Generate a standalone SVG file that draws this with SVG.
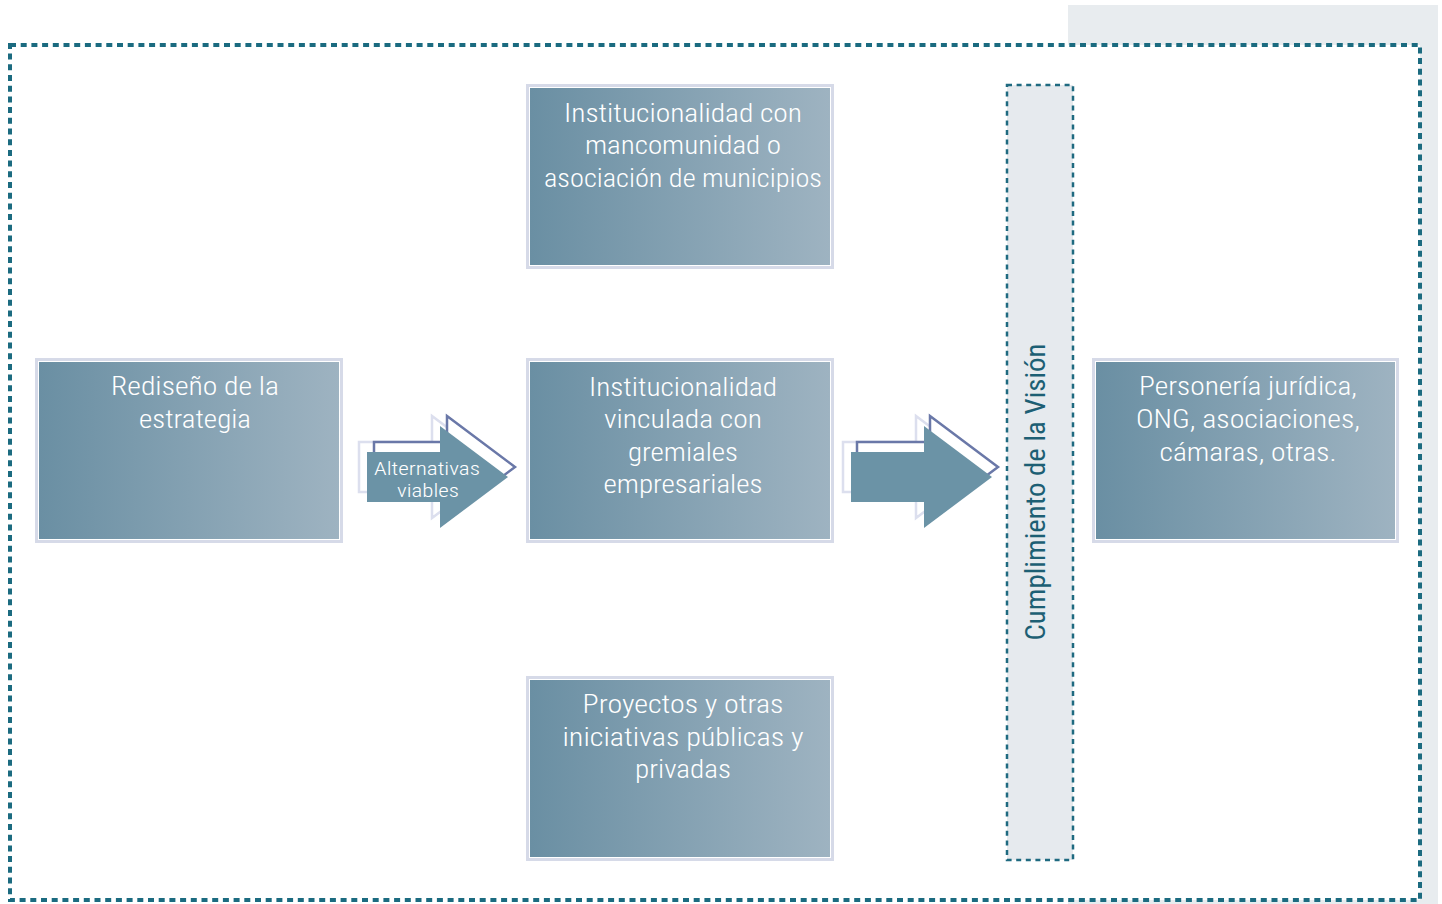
<svg xmlns="http://www.w3.org/2000/svg" width="1442" height="904" viewBox="0 0 1442 904">
  <style>
    .frame { fill: none; stroke: #1b6b80; stroke-width: 4; stroke-dasharray: 6 4.7; }
    .vision { fill: #e6eaee; stroke: #1f6a80; stroke-width: 2.5; stroke-dasharray: 5 4.6; }
    .boxout { fill: #ffffff; stroke: #d6dae8; stroke-width: 3; }
    .boxin { fill: url(#boxGrad); }
    .lbl { font-family: "Liberation Sans Narrow", "Roboto Condensed", Roboto, "Liberation Sans", Arial, sans-serif; font-size: 26px; font-weight: 300; fill: #ffffff; text-anchor: middle; }
    .arrLbl { font-family: "Liberation Sans Narrow", "Roboto Condensed", Roboto, "Liberation Sans", Arial, sans-serif; font-size: 19px; font-weight: 300; fill: #ffffff; text-anchor: middle; }
    .vlbl { font-family: "Liberation Sans Narrow", "Roboto Condensed", Roboto, "Liberation Sans", Arial, sans-serif; font-size: 27px; fill: #1d5f74; text-anchor: middle; }
    .arrFill { fill: #6b93a6; }
    .arrLight { fill: #ffffff; stroke: #dcdfee; stroke-width: 2.5; }
    .arrDark { fill: #ffffff; stroke: #6a78a8; stroke-width: 2.5; }
  </style>
  <defs>
    <linearGradient id="boxGrad" x1="0" y1="0" x2="1" y2="0">
      <stop offset="0" stop-color="#6a8fa3"/>
      <stop offset="1" stop-color="#9eb3c1"/>
    </linearGradient>
    <!-- block arrow shape, origin at the left end of the shaft centre line -->
    <polygon id="blockArrow" points="0,-25 73,-25 73,-51 141,0 73,51 73,25 0,25"/>
  </defs>

  <!-- background panel and frame -->
  <rect x="1068" y="5" width="370" height="899" fill="#e8ecef"/>
  <rect x="0" y="45" width="1420" height="855" fill="#ffffff"/>
  <rect class="frame" x="10" y="45" width="1410" height="855"/>

  <!-- vertical band -->
  <g id="vision">
    <rect class="vision" x="1007" y="85" width="66" height="775"/>
    <text class="vlbl" transform="translate(1045,492) rotate(-90)" textLength="297" lengthAdjust="spacingAndGlyphs">Cumplimiento de la Visión</text>
  </g>

  <g id="connectors">
    <g id="arrow1">
      <use href="#blockArrow" class="arrLight" transform="translate(359,467)"/>
      <use href="#blockArrow" class="arrDark" transform="translate(374,467)"/>
      <use href="#blockArrow" class="arrFill" transform="translate(367,477)"/>
      <text class="arrLbl" x="427" y="475" textLength="106" lengthAdjust="spacingAndGlyphs">Alternativas</text>
      <text class="arrLbl" x="428" y="497" textLength="62" lengthAdjust="spacingAndGlyphs">viables</text>
    </g>
    <g id="arrow2">
      <use href="#blockArrow" class="arrLight" transform="translate(843,467)"/>
      <use href="#blockArrow" class="arrDark" transform="translate(857,467)"/>
      <use href="#blockArrow" class="arrFill" transform="translate(851,477)"/>
    </g>
  </g>

  <g id="redisenio">
    <rect class="boxout" x="36.5" y="359.5" width="305" height="182"/>
    <rect class="boxin" x="39" y="362" width="300" height="177"/>
    <text class="lbl" x="195" y="395" textLength="168" lengthAdjust="spacingAndGlyphs">Rediseño de la</text>
    <text class="lbl" x="195" y="428" textLength="112" lengthAdjust="spacingAndGlyphs">estrategia</text>
  </g>

  <g id="mancomunidad">
    <rect class="boxout" x="527.5" y="85.5" width="305" height="182"/>
    <rect class="boxin" x="530" y="88" width="300" height="177"/>
    <text class="lbl" x="683" y="122" textLength="238" lengthAdjust="spacingAndGlyphs">Institucionalidad con</text>
    <text class="lbl" x="683" y="154" textLength="196" lengthAdjust="spacingAndGlyphs">mancomunidad o</text>
    <text class="lbl" x="683" y="187" textLength="278" lengthAdjust="spacingAndGlyphs">asociación de municipios</text>
  </g>

  <g id="gremiales">
    <rect class="boxout" x="527.5" y="359.5" width="305" height="182"/>
    <rect class="boxin" x="530" y="362" width="300" height="177"/>
    <text class="lbl" x="683" y="396" textLength="188" lengthAdjust="spacingAndGlyphs">Institucionalidad</text>
    <text class="lbl" x="683" y="428" textLength="158" lengthAdjust="spacingAndGlyphs">vinculada con</text>
    <text class="lbl" x="683" y="461" textLength="110" lengthAdjust="spacingAndGlyphs">gremiales</text>
    <text class="lbl" x="683" y="493" textLength="159" lengthAdjust="spacingAndGlyphs">empresariales</text>
  </g>

  <g id="proyectos">
    <rect class="boxout" x="527.5" y="677.5" width="305" height="182"/>
    <rect class="boxin" x="530" y="680" width="300" height="177"/>
    <text class="lbl" x="683" y="713" textLength="201" lengthAdjust="spacingAndGlyphs">Proyectos y otras</text>
    <text class="lbl" x="683" y="746" textLength="241" lengthAdjust="spacingAndGlyphs">iniciativas públicas y</text>
    <text class="lbl" x="683" y="778" textLength="96" lengthAdjust="spacingAndGlyphs">privadas</text>
  </g>

  <g id="personeria">
    <rect class="boxout" x="1093.5" y="359.5" width="304" height="182"/>
    <rect class="boxin" x="1096" y="362" width="299" height="177"/>
    <text class="lbl" x="1248" y="395" textLength="218" lengthAdjust="spacingAndGlyphs">Personería jurídica,</text>
    <text class="lbl" x="1248" y="428" textLength="224" lengthAdjust="spacingAndGlyphs">ONG, asociaciones,</text>
    <text class="lbl" x="1248" y="461" textLength="177" lengthAdjust="spacingAndGlyphs">cámaras, otras.</text>
  </g>
</svg>
